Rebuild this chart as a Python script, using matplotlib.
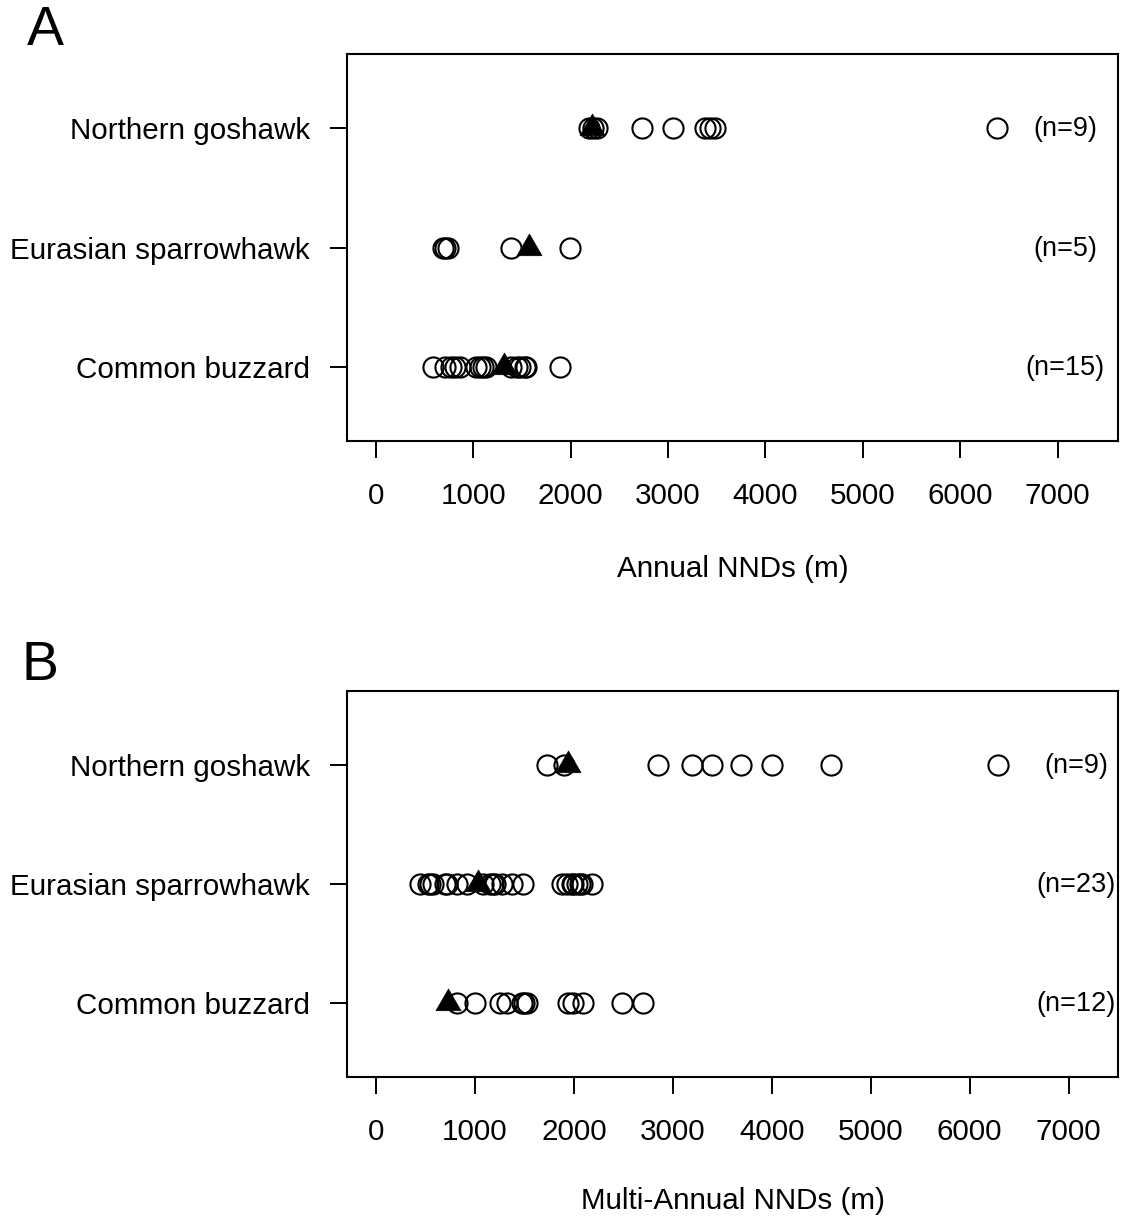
import matplotlib.pyplot as plt
from matplotlib.path import Path

plt.rcParams['font.family'] = ['Liberation Sans', 'DejaVu Sans']

species = ['Common buzzard', 'Eurasian sparrowhawk', 'Northern goshawk']
ticks = [0, 1000, 2000, 3000, 4000, 5000, 6000, 7000]

# Panel A - annual NNDs (m)
buzzard_a = [588, 708, 777, 811, 862, 1034, 1068, 1102, 1136, 1393, 1445, 1478, 1530, 1547, 1889]
sparrow_a = [691, 715, 742, 1393, 1992]
goshawk_a = [2190, 2230, 2270, 2728, 3052, 3378, 3429, 3480, 6373]
marks_a = [1314, 1571, 2221]
n_a = ['(n=15)', '(n=5)', '(n=9)']

# Panel B - multi-annual NNDs (m)
buzzard_b = [815, 1000, 1253, 1320, 1472, 1500, 1522, 1943, 1993, 2094, 2482, 2700]
sparrow_b = [444, 529, 546, 579, 697, 714, 815, 916, 1084, 1152, 1185, 1202, 1269,
             1370, 1488, 1875, 1926, 1976, 1993, 2027, 2061, 2077, 2178]
goshawk_b = [1728, 1900, 2853, 3198, 3399, 3689, 3998, 4597, 6286]
marks_b = [731, 1034, 1945]
n_b = ['(n=12)', '(n=23)', '(n=9)']

# equilateral triangle centred on its centroid (like R pch 17)
tri = Path([(0, 1.1547), (-1, -0.5774), (1, -0.5774), (0, 1.1547)],
           [Path.MOVETO, Path.LINETO, Path.LINETO, Path.CLOSEPOLY])

FS = 21.3

def panel(ax, groups, marks, nlabels, xlim, xlabel, xlab_y):
    for i, vals in enumerate(groups):
        ax.plot(vals, [i + 1] * len(vals), linestyle='none', marker='o', ms=14.5,
                mfc='none', mec='black', mew=1.5)
    ax.plot(marks, [1, 2, 3], linestyle='none', marker=tri, ms=20.8,
            color='black', mew=0.5)
    for i, t in enumerate(nlabels):
        ax.text(7075, i + 0.99, t, ha='center', va='center', fontsize=19.5)
    ax.set_xlim(*xlim)
    ax.set_ylim(0.38, 3.62)
    ax.set_yticks([1, 2, 3])
    ax.set_yticklabels(species, fontsize=FS)
    ax.set_xticks(ticks)
    ax.set_xticklabels([str(t) for t in ticks], fontsize=FS)
    ax.tick_params(axis='x', length=12.5, width=1.4, pad=17)
    ax.tick_params(axis='y', length=12.5, width=1.4, pad=14)
    for s in ax.spines.values():
        s.set_linewidth(1.5)
    ax.set_xlabel(xlabel, fontsize=FS, va='center')
    ax.xaxis.set_label_coords(0.5, xlab_y)

fig = plt.figure(figsize=(11.33, 12.19), dpi=100)
ax1 = fig.add_axes([0.3063, 0.6382, 0.6805, 0.3175])
ax2 = fig.add_axes([0.3063, 0.1165, 0.6805, 0.3166])

panel(ax1, [buzzard_a, sparrow_a, goshawk_a], marks_a, n_a, (-295, 7620),
      'Annual NNDs (m)', -0.33)
panel(ax2, [buzzard_b, sparrow_b, goshawk_b], marks_b, n_b, (-293, 7500),
      'Multi-Annual NNDs (m)', -0.322)

fig.text(45 / 1133, 1 - 31 / 1219, 'A', fontsize=40, ha='center', va='center')
fig.text(40 / 1133, 1 - 666 / 1219, 'B', fontsize=40, ha='center', va='center')

fig.savefig('out.png', dpi=100)
